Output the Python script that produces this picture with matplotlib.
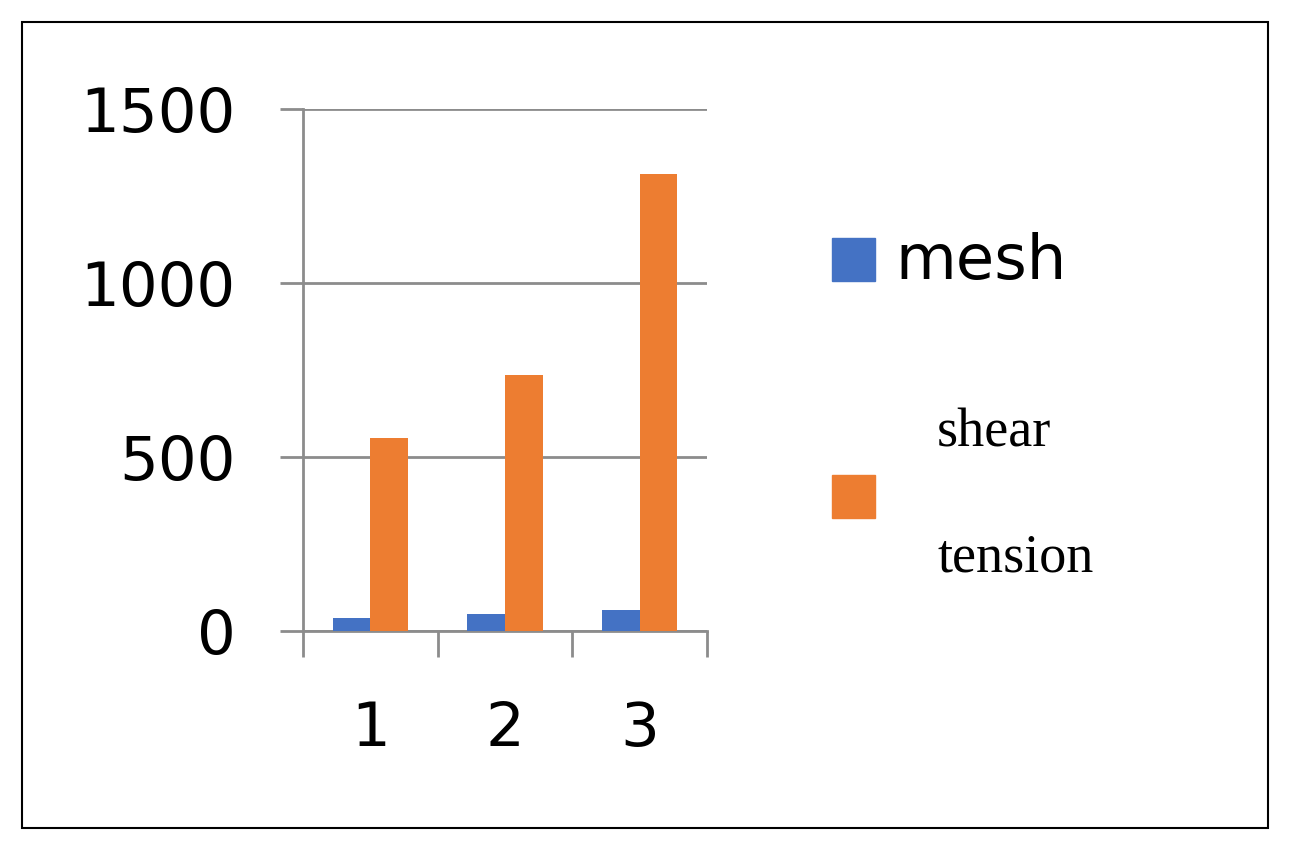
import numpy as np
import matplotlib.pyplot as plt
from matplotlib.patches import Rectangle

categories = ["1", "2", "3"]
mesh = [37, 49, 60]
shear_tension = [555, 736, 1313]

BLUE = "#4472C4"
ORANGE = "#ED7D31"
GRID = "#8C8C8C"

fig = plt.figure(figsize=(12.93, 8.46), dpi=100)
fig.patches.append(Rectangle((22 / 1293, 18 / 846), 1246 / 1293, 806 / 846,
                             transform=fig.transFigure, fill=False,
                             edgecolor="black", linewidth=1.5))

ax = fig.add_axes([303 / 1293, 1 - 631 / 846, 404 / 1293, 522 / 846])
x = np.arange(len(categories))
w = 0.28
ax.bar(x - w / 2, mesh, w, color=BLUE, zorder=3)
ax.bar(x + w / 2, shear_tension, w, color=ORANGE, zorder=3)

ax.set_xlim(-0.5, 2.5)
ax.set_ylim(0, 1500)
ax.set_yticks([0, 500, 1000, 1500])
ax.set_xticks(x)
ax.set_xticklabels(categories)
ax.set_xticks([-0.5, 0.5, 1.5, 2.5], minor=True)
ax.grid(True, axis="y", color=GRID, linewidth=2, zorder=0)
for s in ["top", "right"]:
    ax.spines[s].set_visible(False)
for s in ["left", "bottom"]:
    ax.spines[s].set_color(GRID)
    ax.spines[s].set_linewidth(2)
ax.tick_params(axis="y", length=16.5, width=2, color=GRID, labelsize=44, pad=32)
ax.tick_params(axis="x", which="major", length=0, labelsize=44, pad=50)
ax.tick_params(axis="x", which="minor", length=19, width=2, color=GRID)

fig.patches.append(Rectangle((832 / 1293, 1 - 281 / 846), 43 / 1293, 43 / 846,
                             transform=fig.transFigure, color=BLUE))
fig.patches.append(Rectangle((832 / 1293, 1 - 518 / 846), 43 / 1293, 43 / 846,
                             transform=fig.transFigure, color=ORANGE))
fig.text(895 / 1293, 1 - 262 / 846, "mesh", fontsize=45, va="center")
fig.text(937 / 1293, 1 - 433 / 846, "shear", fontsize=39,
         family="Liberation Serif", va="center")
fig.text(937 / 1293, 1 - 558 / 846, "tension", fontsize=39,
         family="Liberation Serif", va="center")

fig.savefig("out.png", dpi=100)
